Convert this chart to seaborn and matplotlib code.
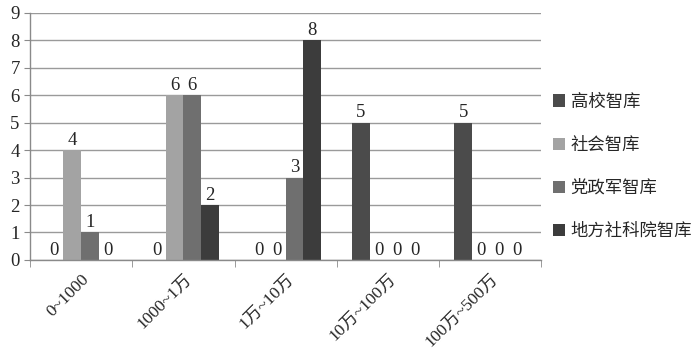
import matplotlib
matplotlib.use("Agg")
import matplotlib.pyplot as plt
import seaborn as sns
import pandas as pd
from matplotlib.patches import Patch

categories = ["0~1000", "1000~1万", "1万~10万", "10万~100万", "100万~500万"]
series = ["高校智库", "社会智库", "党政军智库", "地方社科院智库"]
gaoxiao = [0, 0, 0, 5, 5]
shehui = [4, 6, 0, 0, 0]
dangzhengjun = [1, 6, 3, 0, 0]
difang = [0, 2, 8, 0, 0]
colors = ["#4b4b4b", "#a3a3a3", "#6f6f6f", "#3c3c3c"]

rows = []
for s, vals in zip(series, [gaoxiao, shehui, dangzhengjun, difang]):
    for c, v in zip(categories, vals):
        rows.append({"区间": c, "数量": v, "类型": s})
df = pd.DataFrame(rows)

sns.set_style("white")
plt.rcParams['font.family'] = ['Liberation Serif', 'Noto Sans CJK SC']

fig = plt.figure(figsize=(7, 3.58), dpi=100)
ax = fig.add_axes([0.043, 0.274, 0.730, 0.690])
sns.barplot(data=df, x="区间", y="数量", hue="类型", order=categories,
            hue_order=series, palette=colors, width=0.7, ax=ax,
            legend=False, saturation=1, edgecolor="none")

for cont in ax.containers:
    ax.bar_label(cont, fmt="%d", padding=1, fontsize=13.5,
                 family=['Liberation Serif', 'Noto Sans CJK SC'])

ax.set_ylim(0, 9)
ax.set_yticks(range(0, 10))
ax.set_xlim(-0.5, len(categories) - 0.5)
ax.yaxis.grid(True, color="#9a9a9a", linewidth=1)
ax.set_axisbelow(True)
ax.set_xlabel("")
ax.set_ylabel("")
for sp in ["top", "right"]:
    ax.spines[sp].set_visible(False)
for sp in ["left", "bottom"]:
    ax.spines[sp].set_color("#8a8a8a")
    ax.spines[sp].set_linewidth(1)

ax.tick_params(axis="y", labelsize=13.5, length=4, color="#8a8a8a", direction="out", left=True)
ax.tick_params(axis="x", which="major", length=0, labelsize=12.5, pad=8)
ax.set_xticks([i - 0.5 for i in range(len(categories) + 1)], minor=True)
ax.tick_params(axis="x", which="minor", length=5, color="#8a8a8a", direction="out", bottom=True)
for lab in ax.get_xticklabels():
    lab.set_rotation(45)
    lab.set_ha("right")
    lab.set_rotation_mode("anchor")

handles = [Patch(facecolor=c, edgecolor="none") for c in colors]
leg = fig.legend(handles, series, loc="upper left", bbox_to_anchor=(0.768, 0.785),
                 frameon=False, handlelength=0.7, handleheight=0.7, handletextpad=0.3,
                 labelspacing=1.45, prop={'family': 'Noto Sans CJK SC', 'size': 12.5})

fig.savefig("out.png", dpi=100)
